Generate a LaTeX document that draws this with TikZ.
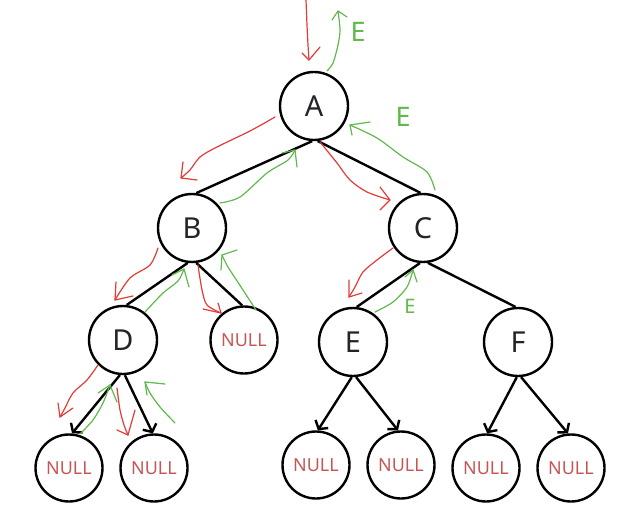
\documentclass[tikz,border=0pt]{standalone}
\usepackage{fontspec}
\setmainfont{Noto Sans}
\usetikzlibrary{arrows.meta}
\definecolor{penred}{RGB}{226,60,55}
\definecolor{pengreen}{RGB}{95,185,75}
\definecolor{nullred}{RGB}{200,85,85}
\definecolor{ink}{RGB}{35,35,40}
\tikzset{
  tnode/.style={circle,draw=black,line width=2.4bp,minimum size=68bp,inner sep=0pt,
    font=\fontsize{29}{30}\selectfont,text=ink},
  nullnode/.style={circle,draw=black,line width=2.4bp,minimum size=67bp,inner sep=0pt,
    font=\fontsize{18}{19}\selectfont,text=nullred},
  edge/.style={line width=2.4bp,black},
  arr/.style={edge,-{Straight Barb[length=6bp,width=15bp,line width=2.4bp]}},
  redpen/.style={penred,line width=1.2bp,line cap=round,line join=round},
  greenpen/.style={pengreen,line width=1.2bp,line cap=round,line join=round},
  elabel/.style={text=pengreen,inner sep=0pt}
}
\begin{document}
\begin{tikzpicture}[x=1bp,y=-1bp]
\useasboundingbox (0,0) rectangle (618,516);
% nodes
\node[tnode] (A) at (314,106) {A};
\node[tnode] (B) at (192,228) {B};
\node[tnode] (C) at (423,228) {C};
\node[tnode] (D) at (123,340) {D};
\node[nullnode] (nb) at (244,340) {NULL};
\node[tnode] (E) at (353,342) {E};
\node[tnode] (F) at (518,342) {F};
\node[nullnode] (n1) at (69,468) {NULL};
\node[nullnode] (n2) at (154,468) {NULL};
\node[nullnode] (n3) at (316,465) {NULL};
\node[nullnode] (n4) at (401,465) {NULL};
\node[nullnode] (n5) at (486,468) {NULL};
\node[nullnode] (n6) at (571,468) {NULL};
% black edges
\draw[edge] (A.267) -- (B.83);
\draw[edge] (A.276) -- (C.94);
\draw[edge] (B.263) -- (D.84);
\draw[edge] (B.277) -- (nb.93);
\draw[edge] (C.265) -- (E.84);
\draw[edge] (C.278) -- (F.94);
\draw[arr] (D.265) -- (n1.85);
\draw[arr] (D.273) -- (n2.92);
\draw[arr] (E.268) -- (n3.87);
\draw[arr] (E.275) -- (n4.95);
\draw[arr] (F.268) -- (n5.88);
\draw[arr] (F.275) -- (n6.95);
% red strokes (descending)
\draw[redpen] plot[smooth] coordinates {(306,0) (307,25) (308,45) (309,60)};
\draw[redpen] (302,53) -- (309,60) -- (320,47);
\draw[redpen] plot[smooth] coordinates {(275,117) (250,131) (217,147) (200,157) (190,170) (181,178)};
\draw[redpen] (183,162) -- (181,178) -- (197,180);
\draw[redpen] plot[smooth] coordinates {(320,142) (337,163) (350,180) (367,192) (390,200)};
\draw[redpen] (380,187) -- (390,200) -- (380,210);
\draw[redpen] plot[smooth] coordinates {(158,248) (150,265) (130,278) (115,300)};
\draw[redpen] (116,282) -- (115,300) -- (133,296);
\draw[redpen] plot[smooth] coordinates {(198,265) (202,290) (207,305) (221,313)};
\draw[redpen] (203,309) -- (221,313) -- (218,303);
\draw[redpen] plot[smooth] coordinates {(393,248) (377,260) (363,272) (355,287) (349,297)};
\draw[redpen] (349,280) -- (349,297) -- (362,293);
\draw[redpen] plot[smooth] coordinates {(98,365) (87,380) (73,393) (65,408) (60,417)};
\draw[redpen] (58,403) -- (60,417) -- (73,408);
\draw[redpen] plot[smooth] coordinates {(117,388) (120,410) (124,425) (128,435)};
\draw[redpen] (117,430) -- (128,435) -- (135,410);
% green strokes (returning)
\draw[greenpen] plot[smooth] coordinates {(327,71) (333,63) (338,45) (340,30) (338,11)};
\draw[greenpen] (332,20) -- (338,11) -- (347,17);
\draw[greenpen] plot[smooth] coordinates {(435,190) (427,172) (403,157) (377,138) (350,125)};
\draw[greenpen] (370,122) -- (350,125) -- (352,135);
\draw[greenpen] plot[smooth] coordinates {(220,203) (240,197) (267,173) (288,160) (295,150)};
\draw[greenpen] (282,153) -- (295,150) -- (297,167);
\draw[greenpen] plot[smooth] coordinates {(145,312) (163,293) (178,281) (184,269)};
\draw[greenpen] (172,275) -- (184,269) -- (189,287);
\draw[greenpen] plot[smooth] coordinates {(256,310) (243,290) (228,267) (222,255)};
\draw[greenpen] (221,270) -- (222,255) -- (237,250);
\draw[greenpen] plot[smooth] coordinates {(375,312) (393,302) (407,287) (413,270)};
\draw[greenpen] (405,277) -- (413,270) -- (417,282);
\draw[greenpen] plot[smooth] coordinates {(80,434) (93,420) (103,403) (110,385)};
\draw[greenpen] (98,393) -- (110,385) -- (117,402);
\draw[greenpen] plot[smooth] coordinates {(175,423) (160,407) (150,393) (145,382)};
\draw[greenpen] (147,395) -- (145,382) -- (165,384);
% E marks
\node[elabel,font=\fontsize{27}{27}\selectfont] (e1) at (358,32) {E};
\node[elabel,font=\fontsize{27}{27}\selectfont] (e2) at (403,117) {E};
\node[elabel,font=\fontsize{20}{20}\selectfont] (e3) at (410,306) {E};
\end{tikzpicture}
\end{document}
